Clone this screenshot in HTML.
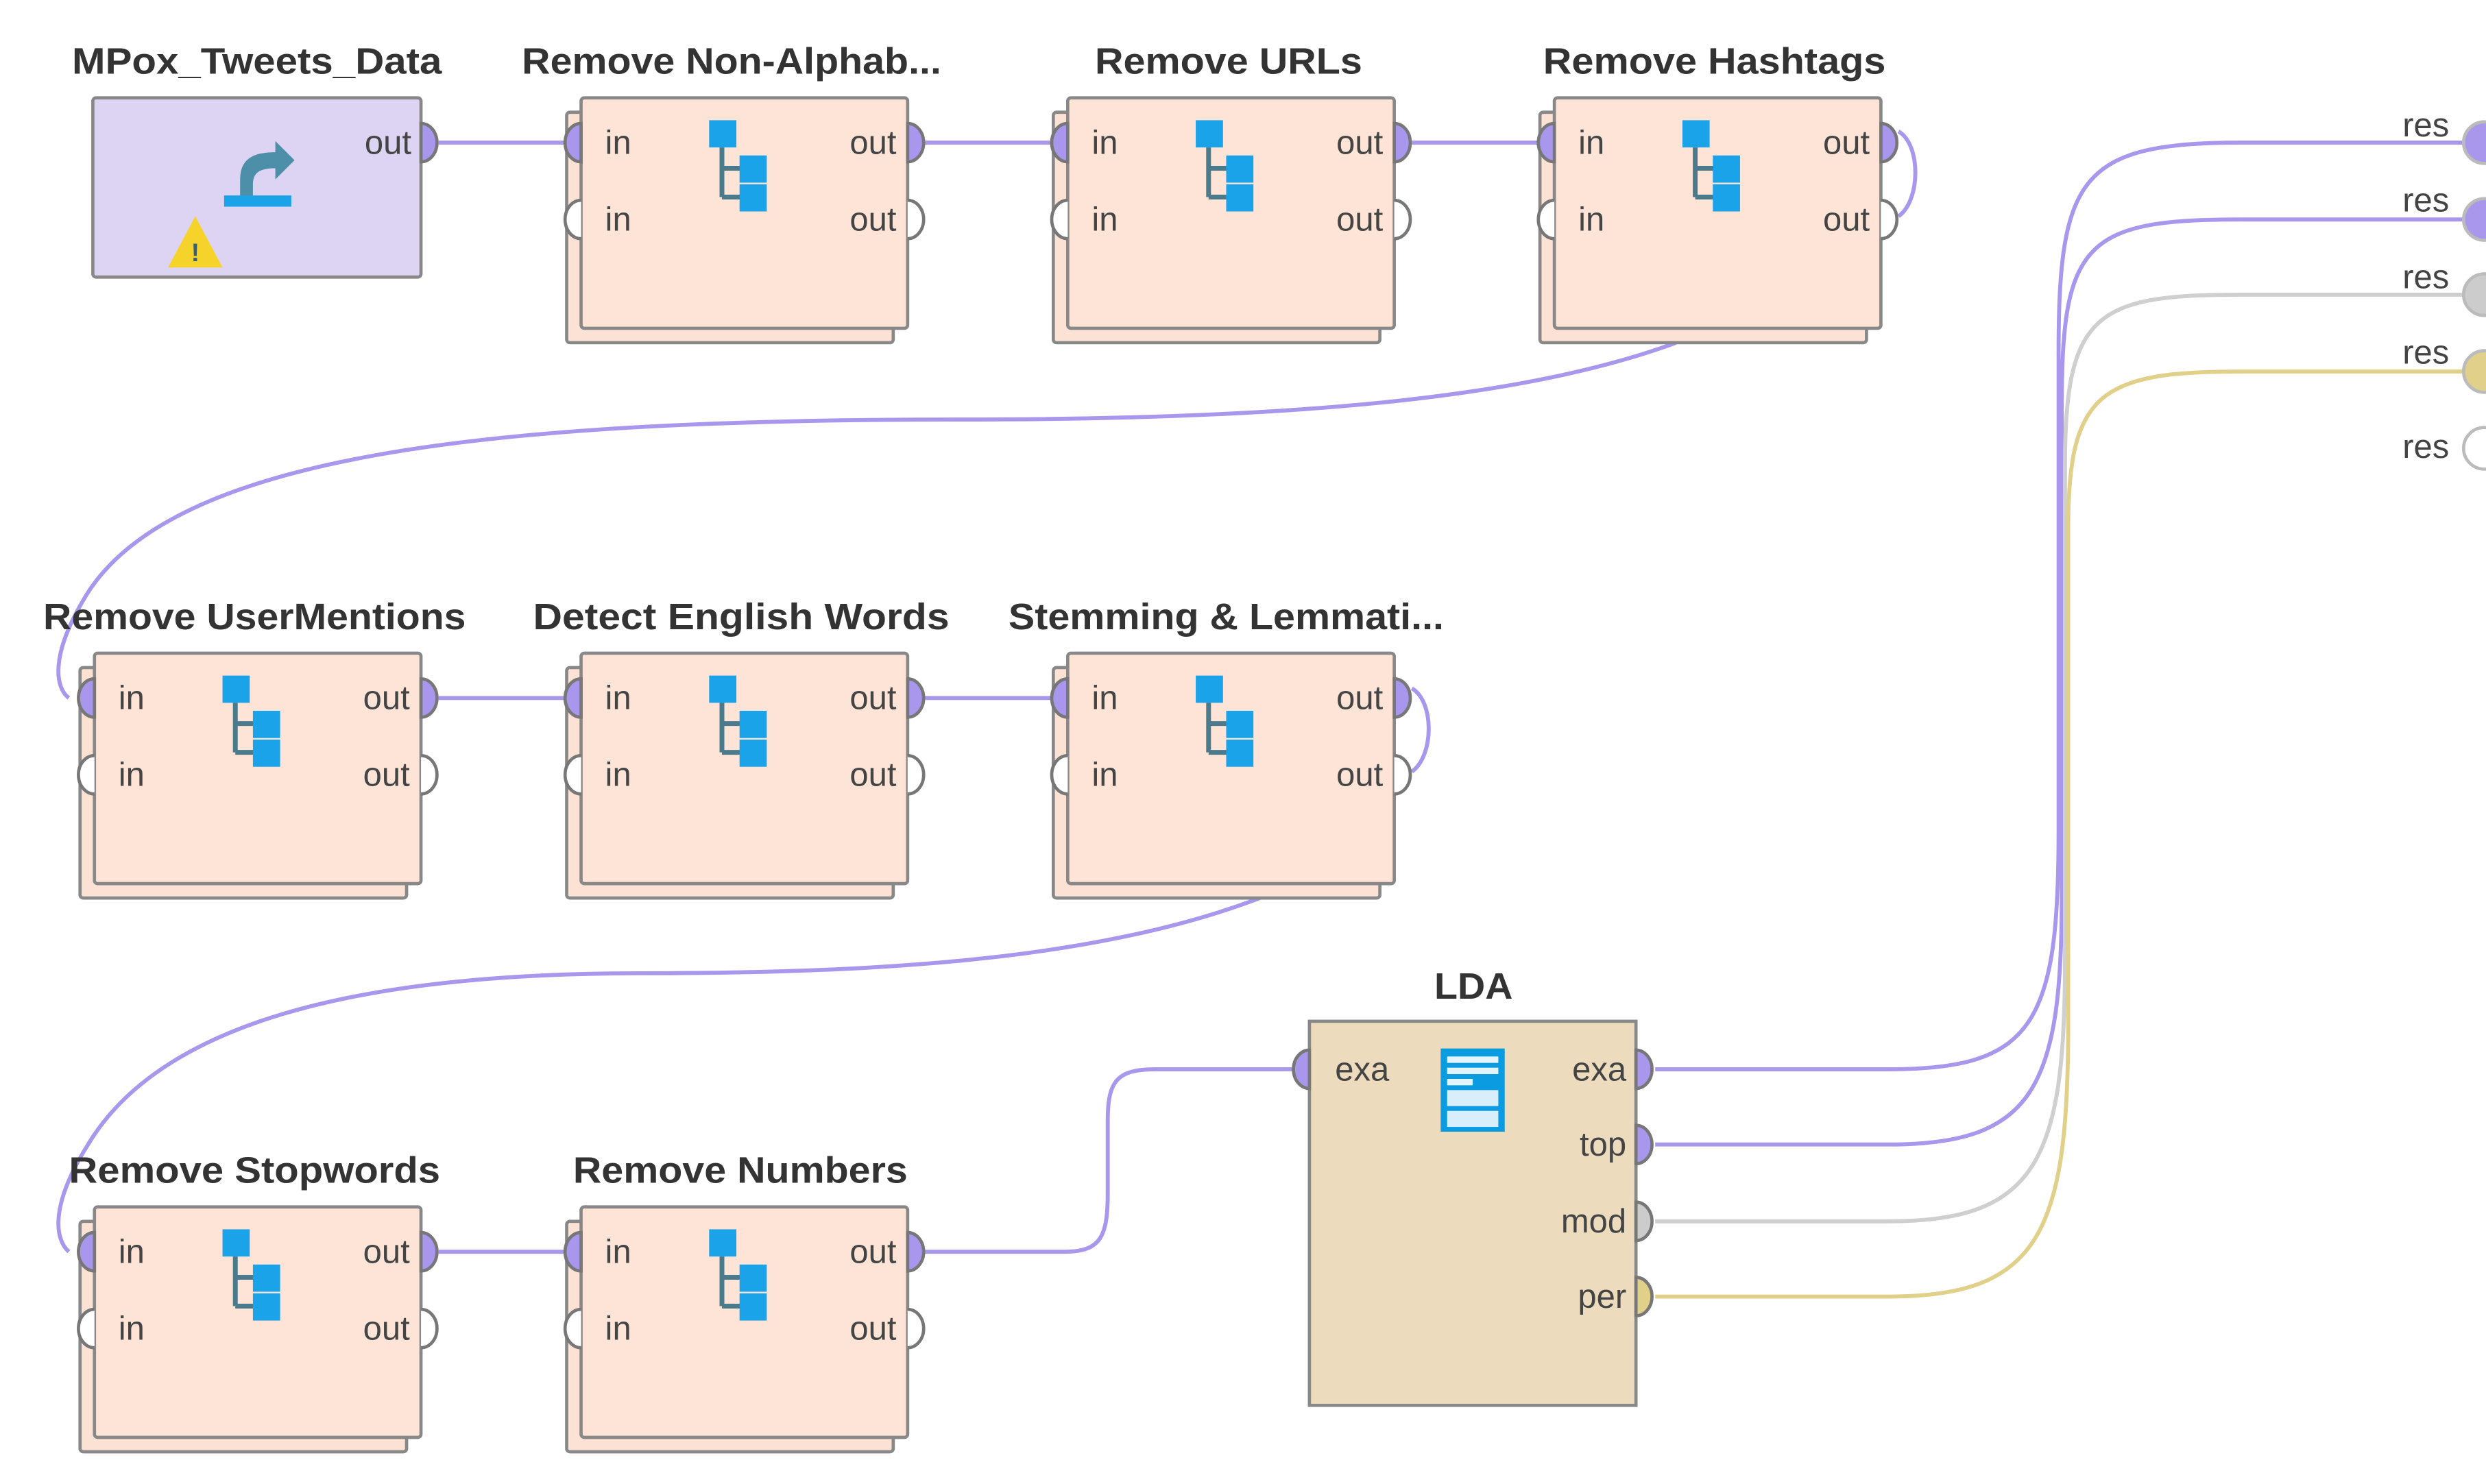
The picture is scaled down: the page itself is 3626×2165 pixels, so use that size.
<!DOCTYPE html>
<html><head><meta charset="utf-8"><style>
html,body{margin:0;padding:0;background:#fff;}
svg{display:block;}
text{font-family:"Liberation Sans",sans-serif;}
.t{font-weight:bold;font-size:23px;fill:#333;}
.p{font-size:21px;fill:#444;}
.r{text-anchor:end;}
</style></head><body>
<svg width="3626" height="2165" viewBox="0 0 1553 927" xmlns="http://www.w3.org/2000/svg">
<defs>
<g id="tree">
  <rect x="0" y="0" width="17" height="17" fill="#1aa3e8"/>
  <path d="M8 17 V48 M8 30 H20 M8 48 H20" stroke="#4a7a8c" stroke-width="3" fill="none"/>
  <rect x="19" y="22" width="17" height="17" fill="#1aa3e8"/>
  <rect x="19" y="40" width="17" height="17" fill="#1aa3e8"/>
</g>
<g id="op">
  <rect x="-9" y="9" width="204" height="144" fill="#fbe2d4" stroke="#888" stroke-width="2" rx="2"/>
  <rect x="0" y="0" width="204" height="144" fill="#fde4d7" stroke="#888" stroke-width="2" rx="2"/>
  <path d="M0 16 A10 12 0 0 0 0 40 Z" fill="#a897ec" stroke="#777" stroke-width="2"/>
  <path d="M0 64 A10 12 0 0 0 0 88" fill="#fff" stroke="#777" stroke-width="2"/>
  <path d="M204 16 A10 12 0 0 1 204 40 Z" fill="#a897ec" stroke="#777" stroke-width="2"/>
  <path d="M204 64 A10 12 0 0 1 204 88" fill="#fff" stroke="#777" stroke-width="2"/>
  <text class="p" x="15" y="35">in</text>
  <text class="p" x="15" y="83">in</text>
  <text class="p r" x="197" y="35">out</text>
  <text class="p r" x="197" y="83">out</text>
  <use href="#tree" x="80" y="14"/>
</g>
</defs>

<g fill="none" stroke-width="2.5">
<path d="M274 89 H354" stroke="#a897ec"/>
<path d="M578 89 H658" stroke="#a897ec"/>
<path d="M882 89 H962" stroke="#a897ec"/>
<path d="M1186 82 C1200 90 1200 125 1186 135" stroke="#a897ec"/>
<path d="M1047 214 C950 250 800 262 600 262 C300 262 110 285 55 370 C30 410 35 430 43 436" stroke="#a897ec"/>
<path d="M274 436 H354" stroke="#a897ec"/>
<path d="M578 436 H658" stroke="#a897ec"/>
<path d="M882 430 C896 438 896 472 882 482" stroke="#a897ec"/>
<path d="M787 561 C690 598 560 608 400 608 C220 608 100 640 55 715 C30 755 35 775 43 782" stroke="#a897ec"/>
<path d="M274 782 H354" stroke="#a897ec"/>
<path d="M578 782 H665 C688 782 692 772 692 745 V700 C692 675 698 668 722 668 H810" stroke="#a897ec"/>
<path d="M1034 668 H1180 C1270 668 1286 640 1286 520 V220 C1286 110 1300 89 1400 89 H1545" stroke="#a897ec"/>
<path d="M1034 715 H1180 C1270 715 1288 680 1288 560 V250 C1288 150 1305 137 1400 137 H1545" stroke="#a897ec"/>
<path d="M1034 763 H1180 C1272 763 1290 725 1290 600 V290 C1290 195 1310 184 1400 184 H1545" stroke="#cfcfcf"/>
<path d="M1034 810 H1180 C1274 810 1292 770 1292 640 V330 C1292 245 1312 232 1400 232 H1545" stroke="#e0d08a"/>
</g>

<!-- MPox -->
<text class="t" x="45" y="46" textLength="231" lengthAdjust="spacingAndGlyphs">MPox_Tweets_Data</text>
<rect x="58" y="61" width="205" height="112" fill="#dcd4f2" stroke="#888" stroke-width="2" rx="2"/>
<path d="M263 77 A10 12 0 0 1 263 101 Z" fill="#a897ec" stroke="#777" stroke-width="2"/>
<text class="p r" x="257" y="96">out</text>
<path d="M150 125 V112 C150 98 160 95 172 95 V88 L184 100 L172 112 V105 C162 105 158 108 158 115 V125 Z" fill="#4d8fa8"/>
<rect x="140" y="122" width="42" height="7" fill="#1aa3e8"/>
<path d="M122 135 L139 167 H105 Z" fill="#f6d32b"/>
<text x="122" y="163" font-size="16" font-weight="bold" fill="#3a6070" text-anchor="middle">!</text>

<!-- Row1 -->
<text class="t" x="326" y="46" textLength="262" lengthAdjust="spacingAndGlyphs">Remove Non-Alphab...</text>
<use href="#op" x="363" y="61"/>
<text class="t" x="684" y="46" textLength="167" lengthAdjust="spacingAndGlyphs">Remove URLs</text>
<use href="#op" x="667" y="61"/>
<text class="t" x="964" y="46" textLength="214" lengthAdjust="spacingAndGlyphs">Remove Hashtags</text>
<use href="#op" x="971" y="61"/>

<!-- Row2 -->
<text class="t" x="27" y="393" textLength="264" lengthAdjust="spacingAndGlyphs">Remove UserMentions</text>
<use href="#op" x="59" y="408"/>
<text class="t" x="333" y="393" textLength="260" lengthAdjust="spacingAndGlyphs">Detect English Words</text>
<use href="#op" x="363" y="408"/>
<text class="t" x="630" y="393" textLength="272" lengthAdjust="spacingAndGlyphs">Stemming &amp; Lemmati...</text>
<use href="#op" x="667" y="408"/>

<!-- Row3 -->
<text class="t" x="43" y="739" textLength="232" lengthAdjust="spacingAndGlyphs">Remove Stopwords</text>
<use href="#op" x="59" y="754"/>
<text class="t" x="358" y="739" textLength="209" lengthAdjust="spacingAndGlyphs">Remove Numbers</text>
<use href="#op" x="363" y="754"/>

<!-- LDA -->
<text class="t" x="896" y="624" textLength="49" lengthAdjust="spacingAndGlyphs">LDA</text>
<rect x="818" y="638" width="204" height="240" fill="#ecdcbd" stroke="#888" stroke-width="2"/>
<path d="M818 656 A10 12 0 0 0 818 680 Z" fill="#a897ec" stroke="#777" stroke-width="2"/>
<path d="M1022 656 A10 12 0 0 1 1022 680 Z" fill="#a897ec" stroke="#777" stroke-width="2"/>
<path d="M1022 703 A10 12 0 0 1 1022 727 Z" fill="#a897ec" stroke="#777" stroke-width="2"/>
<path d="M1022 751 A10 12 0 0 1 1022 775 Z" fill="#cccccc" stroke="#777" stroke-width="2"/>
<path d="M1022 798 A10 12 0 0 1 1022 822 Z" fill="#e0d08a" stroke="#777" stroke-width="2"/>
<text class="p" x="834" y="675">exa</text>
<text class="p r" x="1016" y="675">exa</text>
<text class="p r" x="1016" y="722">top</text>
<text class="p r" x="1016" y="770">mod</text>
<text class="p r" x="1016" y="817">per</text>
<rect x="900" y="655" width="40" height="52" fill="#0a9be0"/>
<rect x="904" y="660" width="32" height="4" fill="#e3f4fd"/>
<rect x="904" y="667" width="32" height="4" fill="#e3f4fd"/>
<rect x="904" y="674" width="16" height="4" fill="#e3f4fd"/>
<rect x="904" y="681" width="32" height="10" fill="#d8effb"/>
<rect x="904" y="694" width="32" height="10" fill="#d8effb"/>

<!-- res ports -->
<g>
<text class="p r" x="1530" y="85">res</text>
<text class="p r" x="1530" y="132">res</text>
<text class="p r" x="1530" y="180">res</text>
<text class="p r" x="1530" y="227">res</text>
<text class="p r" x="1530" y="286">res</text>
<circle cx="1552" cy="89" r="13" fill="#a897ec" stroke="#bbb" stroke-width="2"/>
<circle cx="1552" cy="137" r="13" fill="#a897ec" stroke="#bbb" stroke-width="2"/>
<circle cx="1552" cy="184" r="13" fill="#cccccc" stroke="#bbb" stroke-width="2"/>
<circle cx="1552" cy="232" r="13" fill="#e0d08a" stroke="#bbb" stroke-width="2"/>
<circle cx="1552" cy="280" r="13" fill="#fff" stroke="#bbb" stroke-width="2"/>
</g>
</svg>
</body></html>
